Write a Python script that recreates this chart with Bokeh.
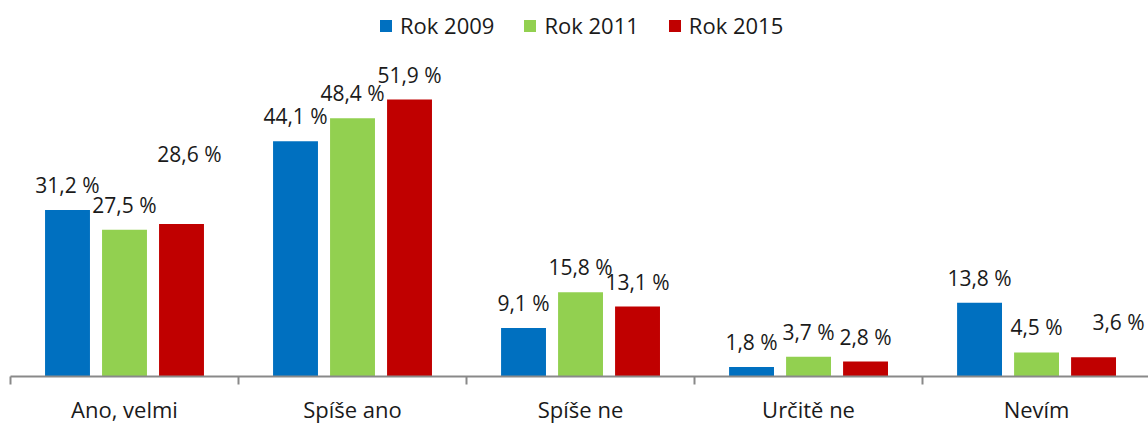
from bokeh.plotting import figure
from bokeh.models import (ColumnDataSource, LabelSet, Legend, LegendItem,
                          FixedTicker, Range1d)
from bokeh.core.properties import value
from bokeh.embed import file_html
from bokeh.resources import INLINE
import numpy as np

# ---- data ----
categories = ["Ano, velmi", "Spíše ano", "Spíše ne", "Určitě ne", "Nevím"]
series_names = ["Rok 2009", "Rok 2011", "Rok 2015"]
rok_2009 = [31.2, 44.1, 9.1, 1.8, 13.8]
rok_2011 = [27.5, 48.4, 15.8, 3.7, 4.5]
rok_2015 = [28.6, 51.9, 13.1, 2.8, 3.6]

# ---- styling / layout ----
colors = ["#0070C0", "#92D050", "#C00000"]
dodge = [-0.25, 0.0, 0.25]
bar_w = 0.197
FONT = "Open Sans"
LABEL_SIZE = "21px"
# extra pixel nudges for individual value labels (series index, category index) -> (dx, dy)
label_nudges = {(2, 0): (8, 45), (2, 4): (25, 10)}

p = figure(width=1148, height=426, output_backend="svg", toolbar_location=None,
           x_range=Range1d(0, 4.991), y_range=Range1d(0, 70.47),
           min_border_left=10, min_border_right=0, min_border_top=0,
           min_border_bottom=40)
p.outline_line_color = None
p.xgrid.visible = False
p.ygrid.visible = False
p.yaxis.visible = False

centers = np.arange(len(categories)) + 0.5
items = []
for si, (name, vals) in enumerate(zip(series_names, [rok_2009, rok_2011, rok_2015])):
    xs = centers + dodge[si]
    dx = [label_nudges.get((si, ci), (0, 0))[0] for ci in range(len(vals))]
    dy = [25 + label_nudges.get((si, ci), (0, 0))[1] for ci in range(len(vals))]
    src = ColumnDataSource(dict(
        x=xs, top=vals,
        txt=[f"{v:.1f}".replace(".", ",") + " %" for v in vals],
        dx=dx, dy=dy))
    r = p.vbar(x="x", top="top", width=bar_w, source=src,
               fill_color=colors[si], line_color=None)
    items.append(LegendItem(label=name, renderers=[r]))
    p.add_layout(LabelSet(x="x", y="top", text="txt", source=src,
                          x_offset="dx", y_offset="dy",
                          text_align="center", text_baseline="middle",
                          text_font=value(FONT), text_font_size=value(LABEL_SIZE),
                          text_color="#1a1a1a"))

ax = p.xaxis[0]
ax.ticker = FixedTicker(ticks=list(centers),
                        minor_ticks=list(np.arange(len(categories) + 1)))
ax.major_label_overrides = {float(c): cat for c, cat in zip(centers, categories)}
ax.major_tick_out = 0
ax.major_tick_in = 0
ax.minor_tick_out = 8
ax.minor_tick_in = 0
ax.minor_tick_line_color = "#898989"
ax.minor_tick_line_width = 2
ax.axis_line_color = "#898989"
ax.axis_line_width = 2
ax.major_label_standoff = 9
ax.major_label_text_font = FONT
ax.major_label_text_font_size = "22px"
ax.major_label_text_color = "#1a1a1a"

legend = Legend(items=items, orientation="horizontal", location=(368, 336),
                glyph_width=15, glyph_height=15, label_standoff=7, spacing=28,
                padding=0, margin=0, border_line_color=None,
                background_fill_alpha=0,
                label_text_font=FONT, label_text_font_size="22px",
                label_text_color="#1a1a1a")
p.add_layout(legend, "center")

open("out.html", "w").write(file_html(p, INLINE))
